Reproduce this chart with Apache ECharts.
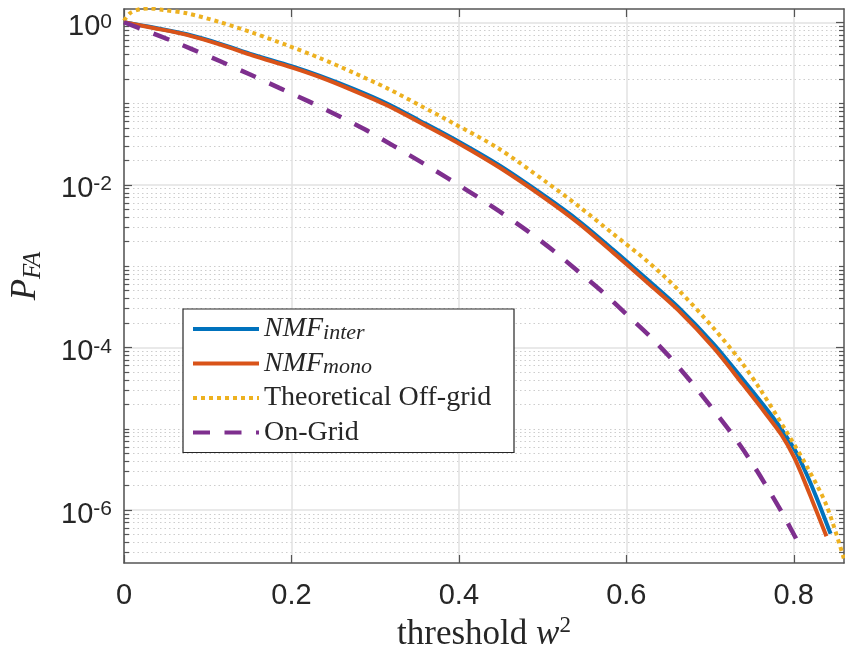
<!DOCTYPE html>
<html><head><meta charset="utf-8">
<script src="https://cdn.jsdelivr.net/npm/echarts@6/dist/echarts.min.js"></script>
<style>html,body{margin:0;padding:0;background:#fff}#c{width:845px;height:655px}</style>
</head><body><div id="c"></div>
<script>
// ---- data (x = threshold w^2, y = log10 of P_FA) ----
const seriesNames = ['NMF_inter', 'NMF_mono', 'Theoretical Off-grid', 'On-Grid'];

const xInter = [0, 0.035, 0.075, 0.115, 0.154, 0.2, 0.234, 0.274, 0.314, 0.353, 0.4, 0.449, 0.505, 0.544, 0.584, 0.624, 0.662, 0.704, 0.739, 0.767, 0.785, 0.803, 0.815, 0.827, 0.844];
const log10Inter = [0, -0.065, -0.148, -0.265, -0.398, -0.54, -0.66, -0.82, -1.0, -1.21, -1.47, -1.765, -2.155, -2.45, -2.795, -3.155, -3.505, -3.955, -4.39, -4.75, -5.0, -5.29, -5.55, -5.84, -6.29];

const xMono = [0, 0.035, 0.075, 0.115, 0.154, 0.2, 0.234, 0.274, 0.314, 0.353, 0.4, 0.449, 0.505, 0.544, 0.584, 0.624, 0.662, 0.704, 0.739, 0.767, 0.785, 0.800, 0.811, 0.822, 0.839];
const log10Mono = [0, -0.07, -0.155, -0.275, -0.41, -0.555, -0.675, -0.84, -1.02, -1.23, -1.49, -1.79, -2.18, -2.48, -2.83, -3.19, -3.54, -4.0, -4.45, -4.82, -5.07, -5.34, -5.60, -5.88, -6.32];

const xTheory = [0, 0.007, 0.019, 0.031, 0.047, 0.075, 0.115, 0.154, 0.194, 0.234, 0.274, 0.314, 0.353, 0.393, 0.447, 0.505, 0.544, 0.584, 0.624, 0.662, 0.704, 0.736, 0.759, 0.791, 0.815, 0.839, 0.86];
const log10Theory = [0.02, 0.11, 0.16, 0.17, 0.15, 0.11, 0.0, -0.13, -0.28, -0.44, -0.62, -0.81, -1.02, -1.24, -1.55, -1.97, -2.27, -2.60, -2.93, -3.29, -3.76, -4.16, -4.50, -5.03, -5.45, -5.94, -6.6];

const xOnGrid = [0, 0.043, 0.081, 0.115, 0.150, 0.186, 0.220, 0.254, 0.288, 0.322, 0.355, 0.387, 0.418, 0.449, 0.481, 0.513, 0.542, 0.572, 0.600, 0.628, 0.653, 0.678, 0.702, 0.726, 0.747, 0.767, 0.787, 0.809];
const log10OnGrid = [0, -0.17, -0.33, -0.48, -0.64, -0.81, -0.97, -1.14, -1.32, -1.52, -1.72, -1.92, -2.12, -2.33, -2.56, -2.81, -3.06, -3.32, -3.59, -3.86, -4.13, -4.43, -4.74, -5.06, -5.37, -5.70, -6.05, -6.47];

const xTickValues = [0, 0.2, 0.4, 0.6, 0.8];
const xTickLabels = ['0', '0.2', '0.4', '0.6', '0.8'];
const yTickExponents = [-6, -4, -2, 0];

// ---- chart ----
const X_MIN = 0, X_MAX = 0.86, Y_MIN = -6.65, Y_MAX = 0.163;
const minorVals = [];
for (let n = -7; n <= 0; n++) {
  for (let k = 1; k <= 9; k++) {
    if (k === 1 && n % 2 === 0) continue;
    const v = n + Math.log10(k);
    if (v > Y_MIN && v < Y_MAX) minorVals.push(v);
  }
}
const zip = (xs, ys) => xs.map((x, i) => [x, ys[i]]);
const AX = '#555555', TXT = '#262626';
const SANS = 'Liberation Sans, Arial, Helvetica, sans-serif';
const SERIF = 'Liberation Serif, Times New Roman, serif';

function yAxisDef(pos, vals, len, major) {
  return {
    type: 'value', position: pos, min: Y_MIN, max: Y_MAX,
    axisLine: { show: major, onZero: false, lineStyle: { color: AX, width: 1.5 } },
    axisTick: { show: true, inside: true, length: len, customValues: vals, lineStyle: { color: AX, width: 1.2 } },
    axisLabel: { show: false, customValues: vals },
    splitLine: { show: false }
  };
}

const yMain = yAxisDef('left', yTickExponents, 8, true);
yMain.axisLabel = {
  show: true, customValues: yTickExponents, margin: 12,
  padding: [8, 0, 0, 0],
  formatter: v => '{b|10}{s|' + Math.round(v) + '}',
  rich: {
    b: { fontFamily: SANS, fontSize: 29, color: TXT, lineHeight: 30, verticalAlign: 'bottom' },
    s: { fontFamily: SANS, fontSize: 21, color: TXT, lineHeight: 10, verticalAlign: 'top' }
  }
};
yMain.splitLine = { show: true, lineStyle: { color: '#e2e2e2', width: 1.5 } };
yMain.name = '{p|P}{s|FA}';
yMain.nameLocation = 'middle';
yMain.nameGap = 78;
yMain.nameTextStyle = {
  padding: [0, 0, 0, 20],
  rich: {
    p: { fontFamily: SERIF, fontStyle: 'italic', fontSize: 35, color: TXT, lineHeight: 40 },
    s: { fontFamily: SERIF, fontStyle: 'italic', fontSize: 25, color: TXT, lineHeight: 16, verticalAlign: 'bottom' }
  }
};
const yMinorLeft = yAxisDef('left', minorVals, 5, false);
yMinorLeft.splitLine = { show: true, lineStyle: { color: '#cdcdcd', width: 1, type: [1.5, 3] } };

function lineSeries(i, xs, ys, color, width, dash) {
  const ls = { color: color, width: width, cap: 'butt' };
  if (dash) ls.type = dash;
  return {
    name: seriesNames[i], type: 'line', data: zip(xs, ys),
    showSymbol: false, symbol: 'none', smooth: 0.3,
    lineStyle: ls, itemStyle: { color: color, opacity: 0 }
  };
}

const option = {
  animation: false,
  backgroundColor: '#ffffff',
  grid: { left: 124, right: 1, top: 9, bottom: 92, containLabel: false, outerBoundsMode: 'none' },
  xAxis: [
    {
      type: 'value', position: 'bottom', min: X_MIN, max: X_MAX,
      axisLine: { show: true, onZero: false, lineStyle: { color: AX, width: 1.5 } },
      axisTick: { show: true, inside: true, length: 8, customValues: xTickValues, lineStyle: { color: AX, width: 1.2 } },
      axisLabel: {
        show: true, customValues: xTickValues, margin: 18, lineHeight: 29,
        fontFamily: SANS, fontSize: 29, color: TXT,
        formatter: v => xTickLabels[xTickValues.findIndex(t => Math.abs(t - v) < 1e-9)]
      },
      splitLine: { show: true, lineStyle: { color: '#e2e2e2', width: 1.5 } },
      name: '{t|threshold }{w|w}{s|2}',
      nameLocation: 'middle', nameGap: 45,
      nameTextStyle: {
        rich: {
          t: { fontFamily: SERIF, fontSize: 35, color: TXT, lineHeight: 40 },
          w: { fontFamily: SERIF, fontStyle: 'italic', fontSize: 35, color: TXT, lineHeight: 40 },
          s: { fontFamily: SERIF, fontSize: 23, color: TXT, lineHeight: 29, verticalAlign: 'top' }
        }
      }
    },
    {
      type: 'value', position: 'top', min: X_MIN, max: X_MAX,
      axisLine: { show: true, onZero: false, lineStyle: { color: AX, width: 1.5 } },
      axisTick: { show: true, inside: true, length: 8, customValues: xTickValues, lineStyle: { color: AX, width: 1.2 } },
      axisLabel: { show: false },
      splitLine: { show: false }
    }
  ],
  yAxis: [yMain, yMinorLeft, yAxisDef('right', yTickExponents, 8, true), yAxisDef('right', minorVals, 5, false)],
  legend: {
    orient: 'vertical', left: 183, top: 309,
    padding: [5, 8, 5, 8], itemGap: 4.5, itemWidth: 66, itemHeight: 14,
    backgroundColor: '#ffffff', borderColor: '#262626', borderWidth: 1.2, borderRadius: 0,
    data: seriesNames,
    itemStyle: { opacity: 0 },
    lineStyle: { width: 4 },
    formatter: name => {
      if (name === 'NMF_inter') return '{i|NMF}{sub|inter}';
      if (name === 'NMF_mono') return '{i|NMF}{sub|mono}';
      return '{r|' + name + '}';
    },
    textStyle: {
      width: 242, fontFamily: SERIF, fontSize: 28, color: TXT, lineHeight: 30,
      rich: {
        i: { fontFamily: SERIF, fontStyle: 'italic', fontSize: 28, color: TXT, lineHeight: 30 },
        sub: { fontFamily: SERIF, fontStyle: 'italic', fontSize: 22, color: TXT, lineHeight: 16, verticalAlign: 'bottom' },
        r: { fontFamily: SERIF, fontSize: 28, color: TXT, lineHeight: 30 }
      }
    }
  },
  series: [
    lineSeries(0, xInter, log10Inter, '#0072BD', 4, null),
    lineSeries(1, xMono, log10Mono, '#D95319', 4, null),
    lineSeries(2, xTheory, log10Theory, '#EDB120', 4, [4, 4]),
    lineSeries(3, xOnGrid, log10OnGrid, '#7E2F8E', 4.5, [17, 14.5])
  ]
};
const chart = echarts.init(document.getElementById('c'), null, { renderer: 'canvas' });
chart.setOption(option);
</script>
</body></html>
